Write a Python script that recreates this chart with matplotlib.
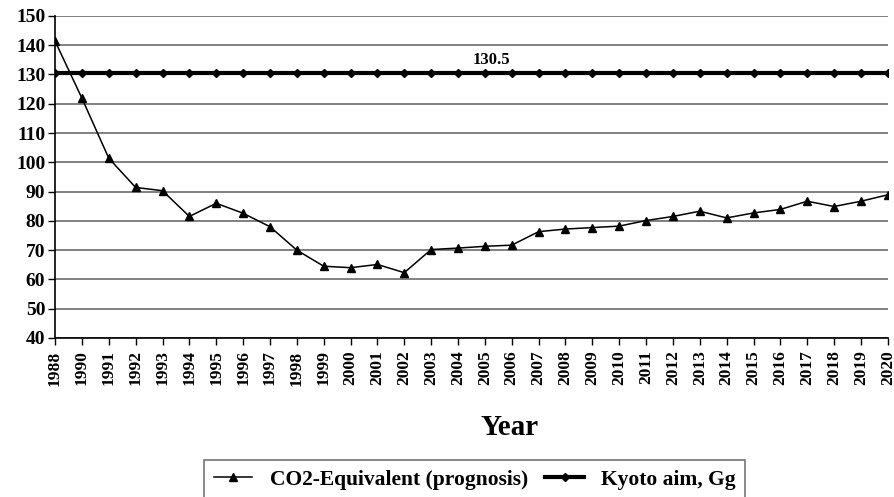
import matplotlib
matplotlib.use("Agg")
import matplotlib.pyplot as plt

# categories (1989 is missing in the source chart)
years = ["1988"] + [str(y) for y in range(1990, 2021)]
co2_equivalent = [141.4, 121.9, 101.4, 91.4, 90.3, 81.5, 86.0, 82.6, 78.0, 70.0,
                  64.5, 64.0, 65.1, 62.3, 70.2, 70.7, 71.3, 71.7, 76.3, 77.2,
                  77.7, 78.2, 80.1, 81.5, 83.3, 81.0, 82.7, 83.9, 86.7, 84.9,
                  86.7, 88.9]
kyoto_aim = [130.5] * len(years)
kyoto_label = "130.5"
y_ticks = list(range(40, 151, 10))

plt.rcParams["font.family"] = ["Liberation Serif", "DejaVu Serif"]
plt.rcParams["font.weight"] = "bold"

fig = plt.figure(figsize=(8.95, 4.97), dpi=100)
ax = fig.add_axes([0.0615, 0.320, 0.9305, 0.648])

x = list(range(len(years)))
line_co2, = ax.plot(x, co2_equivalent, color="black", lw=1.1, marker="^",
                    markersize=6, label="CO2-Equivalent (prognosis)", zorder=4)
line_kyoto, = ax.plot(x, kyoto_aim, color="black", lw=3, marker="D",
                      markersize=4, label="Kyoto aim, Gg", zorder=3)
ax.text(16.25, kyoto_aim[16] + 1.8, kyoto_label, ha="center", va="bottom",
        fontsize=12, fontweight="bold")

ax.set_xlim(0, len(years) - 1)
ax.set_ylim(40, 150)
ax.set_yticks(y_ticks)
ax.set_xticks(x)
ax.set_xticklabels(years, rotation=90, fontsize=12.5, fontweight="bold")
ax.tick_params(axis="y", labelsize=14, length=5, width=1, pad=2)
ax.tick_params(axis="x", length=5, width=1, pad=4)
for lab in ax.get_yticklabels():
    lab.set_fontweight("bold")

ax.grid(axis="y", color="#808080", lw=1.4)
ax.set_axisbelow(True)
for side in ("top", "right"):
    ax.spines[side].set_visible(False)
for side in ("left", "bottom"):
    ax.spines[side].set_color("black")
    ax.spines[side].set_linewidth(1.2)

fig.text(0.569, 0.139, "Year", ha="center", va="center", fontsize=21,
         fontweight="bold")

leg = fig.legend(handles=[line_co2, line_kyoto], loc="upper left",
                 bbox_to_anchor=(0.228, 0.0744), ncol=2, frameon=True,
                 fancybox=False, edgecolor="#555555", fontsize=15.5,
                 handlelength=1.8, handletextpad=0.8, columnspacing=0.8,
                 borderpad=0.45, borderaxespad=0)
leg.get_frame().set_linewidth(1.2)

fig.savefig("out.png", dpi=100)
